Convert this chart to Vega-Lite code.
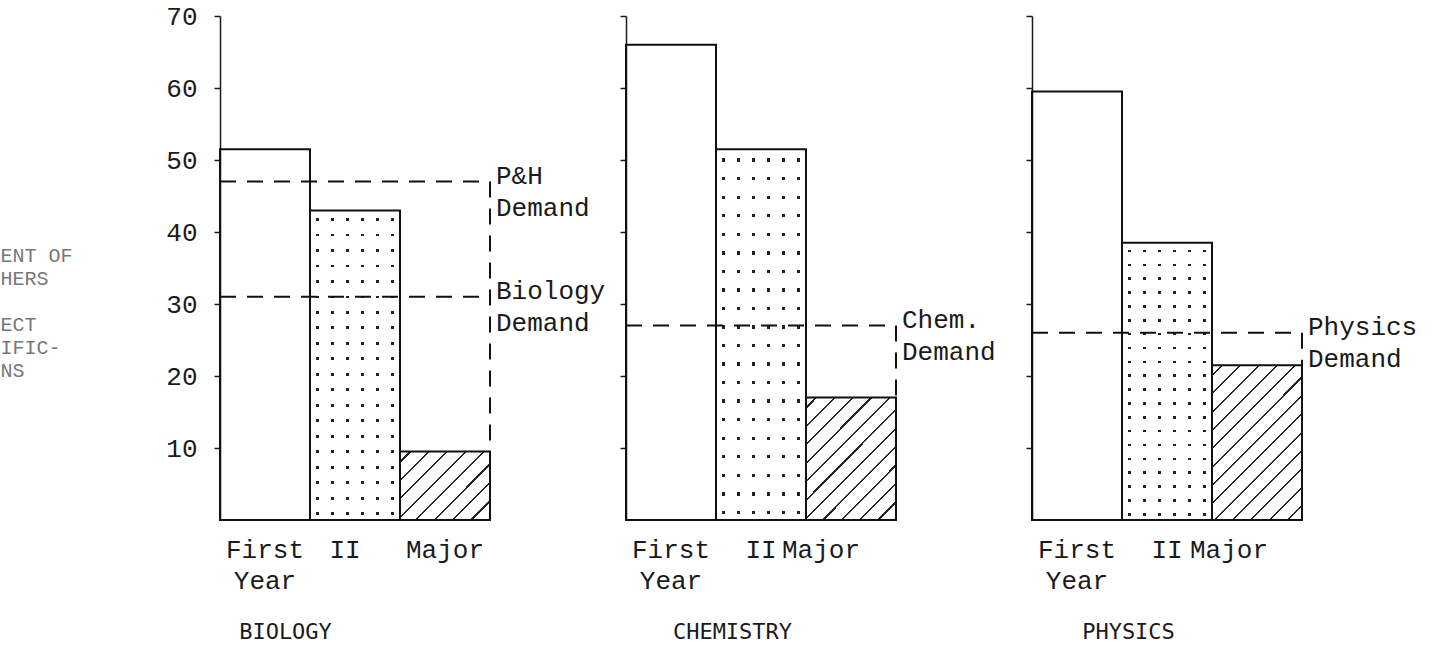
{
  "$schema": "https://vega.github.io/schema/vega-lite/v6.json",
  "background": "white",
  "padding": {"left": -48, "top": 3, "right": 0, "bottom": 0},
  "spacing": 136,
  "bounds": "flush",
  "datasets": {
    "bars": [
      {"subject": "Biology", "category": "First Year", "value": 51.5},
      {"subject": "Biology", "category": "II", "value": 43},
      {"subject": "Biology", "category": "Major", "value": 9.5},
      {"subject": "Chemistry", "category": "First Year", "value": 66},
      {"subject": "Chemistry", "category": "II", "value": 51.5},
      {"subject": "Chemistry", "category": "Major", "value": 17},
      {"subject": "Physics", "category": "First Year", "value": 59.5},
      {"subject": "Physics", "category": "II", "value": 38.5},
      {"subject": "Physics", "category": "Major", "value": 21.5}
    ],
    "demand": [
      {"subject": "Biology", "label": "P&H\nDemand", "demand": 47, "major": 9.5},
      {"subject": "Biology", "label": "Biology\nDemand", "demand": 31, "major": null},
      {"subject": "Chemistry", "label": "Chem.\nDemand", "demand": 27, "major": 17},
      {"subject": "Physics", "label": "Physics\nDemand", "demand": 26, "major": 21.5}
    ]
  },
  "config": {
    "view": {"stroke": null},
    "axis": {"grid": false, "domainColor": "#1a1a1a", "tickColor": "#1a1a1a", "labelColor": "#1a1a1a", "labelFont": "Liberation Mono", "labelFontSize": 26}
  },
  "hconcat": [
    {
      "width": 270, "height": 504,
      "layer": [
        {
          "data": {"name": "bars"},
          "transform": [{"filter": "datum.subject === 'Biology'"}],
          "encoding": {
            "x": {"field": "category", "type": "nominal", "scale": {"domain": ["First Year", "II", "Major"], "paddingInner": 0, "paddingOuter": 0},
              "axis": {"domain": false, "ticks": false, "labelAngle": 0, "labelPadding": 16, "labelLineHeight": 31, "labelOverlap": false, "labelBound": false, "labelBaseline": "top",
                "labelOffset": {"condition": {"test": "datum.value === 'II'", "value": -10}, "value": 0},
                "labelExpr": "datum.value === 'First Year' ? ['First', 'Year\u00a0'] : datum.value",
                "title": "BIOLOGY", "titleFont": "DejaVu Sans Mono", "titleFontSize": 22, "titleFontWeight": "normal", "titleColor": "#1a1a1a", "titleX": 65, "titleY": 111, "titleAlign": "center", "titleBaseline": "middle"}},
            "y": {"field": "value", "type": "quantitative", "scale": {"domain": [0, 70]},
              "axis": {"values": [10, 20, 30, 40, 50, 60, 70], "tickSize": 6, "tickWidth": 1.5, "domainWidth": 1.5, "labelPadding": 17,
                "title": ["PERCENT OF", "TEACHERS", "\u200b", "SUBJECT", "QUALIFIC-", "ATIONS"], "titleAngle": 0, "titleAlign": "left", "titleBaseline": "top", "titleX": -268, "titleY": 229,
                "titleFont": "Liberation Mono", "titleFontSize": 20, "titleFontWeight": "normal", "titleLineHeight": 23, "titleColor": "#777777"}}
          },
          "layer": [
            {"transform": [{"filter": "datum.category === 'II'"}], "mark": {"type": "bar", "fill": {"gradient": "linear", "x1": 0, "y1": 0, "x2": 0, "y2": 1, "stops": [
        {"offset": 0, "color": "#ffffff"},
        {"offset": 0.025, "color": "#ffffff"}, {"offset": 0.025, "color": "#222222"}, {"offset": 0.034, "color": "#222222"}, {"offset": 0.034, "color": "#ffffff"},
        {"offset": 0.075, "color": "#ffffff"}, {"offset": 0.075, "color": "#222222"}, {"offset": 0.084, "color": "#222222"}, {"offset": 0.084, "color": "#ffffff"},
        {"offset": 0.125, "color": "#ffffff"}, {"offset": 0.125, "color": "#222222"}, {"offset": 0.134, "color": "#222222"}, {"offset": 0.134, "color": "#ffffff"},
        {"offset": 0.175, "color": "#ffffff"}, {"offset": 0.175, "color": "#222222"}, {"offset": 0.184, "color": "#222222"}, {"offset": 0.184, "color": "#ffffff"},
        {"offset": 0.225, "color": "#ffffff"}, {"offset": 0.225, "color": "#222222"}, {"offset": 0.234, "color": "#222222"}, {"offset": 0.234, "color": "#ffffff"},
        {"offset": 0.275, "color": "#ffffff"}, {"offset": 0.275, "color": "#222222"}, {"offset": 0.284, "color": "#222222"}, {"offset": 0.284, "color": "#ffffff"},
        {"offset": 0.325, "color": "#ffffff"}, {"offset": 0.325, "color": "#222222"}, {"offset": 0.334, "color": "#222222"}, {"offset": 0.334, "color": "#ffffff"},
        {"offset": 0.375, "color": "#ffffff"}, {"offset": 0.375, "color": "#222222"}, {"offset": 0.384, "color": "#222222"}, {"offset": 0.384, "color": "#ffffff"},
        {"offset": 0.425, "color": "#ffffff"}, {"offset": 0.425, "color": "#222222"}, {"offset": 0.434, "color": "#222222"}, {"offset": 0.434, "color": "#ffffff"},
        {"offset": 0.475, "color": "#ffffff"}, {"offset": 0.475, "color": "#222222"}, {"offset": 0.484, "color": "#222222"}, {"offset": 0.484, "color": "#ffffff"},
        {"offset": 0.525, "color": "#ffffff"}, {"offset": 0.525, "color": "#222222"}, {"offset": 0.534, "color": "#222222"}, {"offset": 0.534, "color": "#ffffff"},
        {"offset": 0.575, "color": "#ffffff"}, {"offset": 0.575, "color": "#222222"}, {"offset": 0.584, "color": "#222222"}, {"offset": 0.584, "color": "#ffffff"},
        {"offset": 0.625, "color": "#ffffff"}, {"offset": 0.625, "color": "#222222"}, {"offset": 0.634, "color": "#222222"}, {"offset": 0.634, "color": "#ffffff"},
        {"offset": 0.675, "color": "#ffffff"}, {"offset": 0.675, "color": "#222222"}, {"offset": 0.684, "color": "#222222"}, {"offset": 0.684, "color": "#ffffff"},
        {"offset": 0.725, "color": "#ffffff"}, {"offset": 0.725, "color": "#222222"}, {"offset": 0.734, "color": "#222222"}, {"offset": 0.734, "color": "#ffffff"},
        {"offset": 0.775, "color": "#ffffff"}, {"offset": 0.775, "color": "#222222"}, {"offset": 0.784, "color": "#222222"}, {"offset": 0.784, "color": "#ffffff"},
        {"offset": 0.825, "color": "#ffffff"}, {"offset": 0.825, "color": "#222222"}, {"offset": 0.834, "color": "#222222"}, {"offset": 0.834, "color": "#ffffff"},
        {"offset": 0.875, "color": "#ffffff"}, {"offset": 0.875, "color": "#222222"}, {"offset": 0.884, "color": "#222222"}, {"offset": 0.884, "color": "#ffffff"},
        {"offset": 0.925, "color": "#ffffff"}, {"offset": 0.925, "color": "#222222"}, {"offset": 0.934, "color": "#222222"}, {"offset": 0.934, "color": "#ffffff"},
        {"offset": 0.975, "color": "#ffffff"}, {"offset": 0.975, "color": "#222222"}, {"offset": 0.984, "color": "#222222"}, {"offset": 0.984, "color": "#ffffff"},
        {"offset": 1, "color": "#ffffff"}]}}},
            {"transform": [{"filter": "datum.category === 'II'"}], "mark": {"type": "bar", "fill": {"gradient": "linear", "x1": 0, "y1": 0, "x2": 1, "y2": 0, "stops": [
        {"offset": 0, "color": "#ffffff"},
        {"offset": 0.067, "color": "#ffffff"}, {"offset": 0.067, "color": "rgba(255,255,255,0)"}, {"offset": 0.1, "color": "rgba(255,255,255,0)"}, {"offset": 0.1, "color": "#ffffff"},
        {"offset": 0.233, "color": "#ffffff"}, {"offset": 0.233, "color": "rgba(255,255,255,0)"}, {"offset": 0.267, "color": "rgba(255,255,255,0)"}, {"offset": 0.267, "color": "#ffffff"},
        {"offset": 0.4, "color": "#ffffff"}, {"offset": 0.4, "color": "rgba(255,255,255,0)"}, {"offset": 0.433, "color": "rgba(255,255,255,0)"}, {"offset": 0.433, "color": "#ffffff"},
        {"offset": 0.567, "color": "#ffffff"}, {"offset": 0.567, "color": "rgba(255,255,255,0)"}, {"offset": 0.6, "color": "rgba(255,255,255,0)"}, {"offset": 0.6, "color": "#ffffff"},
        {"offset": 0.733, "color": "#ffffff"}, {"offset": 0.733, "color": "rgba(255,255,255,0)"}, {"offset": 0.767, "color": "rgba(255,255,255,0)"}, {"offset": 0.767, "color": "#ffffff"},
        {"offset": 0.9, "color": "#ffffff"}, {"offset": 0.9, "color": "rgba(255,255,255,0)"}, {"offset": 0.933, "color": "rgba(255,255,255,0)"}, {"offset": 0.933, "color": "#ffffff"},
        {"offset": 1, "color": "#ffffff"}]}}},
            {"transform": [{"filter": "datum.category === 'Major'"}], "mark": {"type": "bar", "fill": {"gradient": "linear", "x1": 0, "y1": 0, "x2": 2.6, "y2": 1.97, "stops": [
        {"offset": 0, "color": "#ffffff"},
        {"offset": 0.025, "color": "#ffffff"}, {"offset": 0.025, "color": "#262626"}, {"offset": 0.031, "color": "#262626"}, {"offset": 0.031, "color": "#ffffff"},
        {"offset": 0.075, "color": "#ffffff"}, {"offset": 0.075, "color": "#262626"}, {"offset": 0.081, "color": "#262626"}, {"offset": 0.081, "color": "#ffffff"},
        {"offset": 0.125, "color": "#ffffff"}, {"offset": 0.125, "color": "#262626"}, {"offset": 0.131, "color": "#262626"}, {"offset": 0.131, "color": "#ffffff"},
        {"offset": 0.175, "color": "#ffffff"}, {"offset": 0.175, "color": "#262626"}, {"offset": 0.181, "color": "#262626"}, {"offset": 0.181, "color": "#ffffff"},
        {"offset": 0.225, "color": "#ffffff"}, {"offset": 0.225, "color": "#262626"}, {"offset": 0.231, "color": "#262626"}, {"offset": 0.231, "color": "#ffffff"},
        {"offset": 0.275, "color": "#ffffff"}, {"offset": 0.275, "color": "#262626"}, {"offset": 0.281, "color": "#262626"}, {"offset": 0.281, "color": "#ffffff"},
        {"offset": 0.325, "color": "#ffffff"}, {"offset": 0.325, "color": "#262626"}, {"offset": 0.331, "color": "#262626"}, {"offset": 0.331, "color": "#ffffff"},
        {"offset": 0.375, "color": "#ffffff"}, {"offset": 0.375, "color": "#262626"}, {"offset": 0.381, "color": "#262626"}, {"offset": 0.381, "color": "#ffffff"},
        {"offset": 0.425, "color": "#ffffff"}, {"offset": 0.425, "color": "#262626"}, {"offset": 0.431, "color": "#262626"}, {"offset": 0.431, "color": "#ffffff"},
        {"offset": 0.475, "color": "#ffffff"}, {"offset": 0.475, "color": "#262626"}, {"offset": 0.481, "color": "#262626"}, {"offset": 0.481, "color": "#ffffff"},
        {"offset": 0.525, "color": "#ffffff"}, {"offset": 0.525, "color": "#262626"}, {"offset": 0.531, "color": "#262626"}, {"offset": 0.531, "color": "#ffffff"},
        {"offset": 0.575, "color": "#ffffff"}, {"offset": 0.575, "color": "#262626"}, {"offset": 0.581, "color": "#262626"}, {"offset": 0.581, "color": "#ffffff"},
        {"offset": 0.625, "color": "#ffffff"}, {"offset": 0.625, "color": "#262626"}, {"offset": 0.631, "color": "#262626"}, {"offset": 0.631, "color": "#ffffff"},
        {"offset": 0.675, "color": "#ffffff"}, {"offset": 0.675, "color": "#262626"}, {"offset": 0.681, "color": "#262626"}, {"offset": 0.681, "color": "#ffffff"},
        {"offset": 1, "color": "#ffffff"}]}}},
            {"mark": {"type": "bar", "fill": "transparent", "stroke": "#111111", "strokeWidth": 2}}
          ]
        },
        {
          "data": {"name": "demand"},
          "transform": [{"filter": "datum.subject === 'Biology'"}],
          "layer": [
            {"mark": {"type": "rule", "strokeDash": [16, 11], "strokeWidth": 2, "color": "#111111"},
              "encoding": {"y": {"field": "demand", "type": "quantitative", "scale": {"domain": [0, 70]}}, "x": {"value": 0}, "x2": {"value": "width"}}},
            {"transform": [{"filter": "datum.major != null"}], "mark": {"type": "rule", "strokeDash": [16, 11], "strokeWidth": 2, "color": "#111111"},
              "encoding": {"x": {"value": "width"}, "y": {"field": "demand", "type": "quantitative", "scale": {"domain": [0, 70]}}, "y2": {"field": "major"}}},
            {"mark": {"type": "text", "align": "left", "baseline": "middle", "dx": 6, "dy": -6, "lineBreak": "\n", "lineHeight": 32, "font": "Liberation Mono", "fontSize": 26, "color": "#1a1a1a"},
              "encoding": {"x": {"value": "width"}, "y": {"field": "demand", "type": "quantitative", "scale": {"domain": [0, 70]}}, "text": {"field": "label"}}}
          ]
        }
      ]
    },
    {
      "width": 270, "height": 504,
      "layer": [
        {
          "data": {"name": "bars"},
          "transform": [{"filter": "datum.subject === 'Chemistry'"}],
          "encoding": {
            "x": {"field": "category", "type": "nominal", "scale": {"domain": ["First Year", "II", "Major"], "paddingInner": 0, "paddingOuter": 0},
              "axis": {"domain": false, "ticks": false, "labelAngle": 0, "labelPadding": 16, "labelLineHeight": 31, "labelOverlap": false, "labelBound": false, "labelBaseline": "top",
                "labelOffset": {"condition": {"test": "datum.value === 'Major'", "value": -30}, "value": 0},
                "labelExpr": "datum.value === 'First Year' ? ['First', 'Year\u00a0'] : datum.value",
                "title": "CHEMISTRY", "titleFont": "DejaVu Sans Mono", "titleFontSize": 22, "titleFontWeight": "normal", "titleColor": "#1a1a1a", "titleX": 106, "titleY": 111, "titleAlign": "center", "titleBaseline": "middle"}},
            "y": {"field": "value", "type": "quantitative", "scale": {"domain": [0, 70]},
              "axis": {"values": [10, 20, 30, 40, 50, 60, 70], "labels": false, "tickSize": 6, "tickWidth": 1.5, "domainWidth": 1.5, "title": null}}
          },
          "layer": [
            {"transform": [{"filter": "datum.category === 'II'"}], "mark": {"type": "bar", "fill": {"gradient": "linear", "x1": 0, "y1": 0, "x2": 0, "y2": 1, "stops": [
        {"offset": 0, "color": "#ffffff"},
        {"offset": 0.025, "color": "#ffffff"}, {"offset": 0.025, "color": "#222222"}, {"offset": 0.034, "color": "#222222"}, {"offset": 0.034, "color": "#ffffff"},
        {"offset": 0.075, "color": "#ffffff"}, {"offset": 0.075, "color": "#222222"}, {"offset": 0.084, "color": "#222222"}, {"offset": 0.084, "color": "#ffffff"},
        {"offset": 0.125, "color": "#ffffff"}, {"offset": 0.125, "color": "#222222"}, {"offset": 0.134, "color": "#222222"}, {"offset": 0.134, "color": "#ffffff"},
        {"offset": 0.175, "color": "#ffffff"}, {"offset": 0.175, "color": "#222222"}, {"offset": 0.184, "color": "#222222"}, {"offset": 0.184, "color": "#ffffff"},
        {"offset": 0.225, "color": "#ffffff"}, {"offset": 0.225, "color": "#222222"}, {"offset": 0.234, "color": "#222222"}, {"offset": 0.234, "color": "#ffffff"},
        {"offset": 0.275, "color": "#ffffff"}, {"offset": 0.275, "color": "#222222"}, {"offset": 0.284, "color": "#222222"}, {"offset": 0.284, "color": "#ffffff"},
        {"offset": 0.325, "color": "#ffffff"}, {"offset": 0.325, "color": "#222222"}, {"offset": 0.334, "color": "#222222"}, {"offset": 0.334, "color": "#ffffff"},
        {"offset": 0.375, "color": "#ffffff"}, {"offset": 0.375, "color": "#222222"}, {"offset": 0.384, "color": "#222222"}, {"offset": 0.384, "color": "#ffffff"},
        {"offset": 0.425, "color": "#ffffff"}, {"offset": 0.425, "color": "#222222"}, {"offset": 0.434, "color": "#222222"}, {"offset": 0.434, "color": "#ffffff"},
        {"offset": 0.475, "color": "#ffffff"}, {"offset": 0.475, "color": "#222222"}, {"offset": 0.484, "color": "#222222"}, {"offset": 0.484, "color": "#ffffff"},
        {"offset": 0.525, "color": "#ffffff"}, {"offset": 0.525, "color": "#222222"}, {"offset": 0.534, "color": "#222222"}, {"offset": 0.534, "color": "#ffffff"},
        {"offset": 0.575, "color": "#ffffff"}, {"offset": 0.575, "color": "#222222"}, {"offset": 0.584, "color": "#222222"}, {"offset": 0.584, "color": "#ffffff"},
        {"offset": 0.625, "color": "#ffffff"}, {"offset": 0.625, "color": "#222222"}, {"offset": 0.634, "color": "#222222"}, {"offset": 0.634, "color": "#ffffff"},
        {"offset": 0.675, "color": "#ffffff"}, {"offset": 0.675, "color": "#222222"}, {"offset": 0.684, "color": "#222222"}, {"offset": 0.684, "color": "#ffffff"},
        {"offset": 0.725, "color": "#ffffff"}, {"offset": 0.725, "color": "#222222"}, {"offset": 0.734, "color": "#222222"}, {"offset": 0.734, "color": "#ffffff"},
        {"offset": 0.775, "color": "#ffffff"}, {"offset": 0.775, "color": "#222222"}, {"offset": 0.784, "color": "#222222"}, {"offset": 0.784, "color": "#ffffff"},
        {"offset": 0.825, "color": "#ffffff"}, {"offset": 0.825, "color": "#222222"}, {"offset": 0.834, "color": "#222222"}, {"offset": 0.834, "color": "#ffffff"},
        {"offset": 0.875, "color": "#ffffff"}, {"offset": 0.875, "color": "#222222"}, {"offset": 0.884, "color": "#222222"}, {"offset": 0.884, "color": "#ffffff"},
        {"offset": 0.925, "color": "#ffffff"}, {"offset": 0.925, "color": "#222222"}, {"offset": 0.934, "color": "#222222"}, {"offset": 0.934, "color": "#ffffff"},
        {"offset": 0.975, "color": "#ffffff"}, {"offset": 0.975, "color": "#222222"}, {"offset": 0.984, "color": "#222222"}, {"offset": 0.984, "color": "#ffffff"},
        {"offset": 1, "color": "#ffffff"}]}}},
            {"transform": [{"filter": "datum.category === 'II'"}], "mark": {"type": "bar", "fill": {"gradient": "linear", "x1": 0, "y1": 0, "x2": 1, "y2": 0, "stops": [
        {"offset": 0, "color": "#ffffff"},
        {"offset": 0.067, "color": "#ffffff"}, {"offset": 0.067, "color": "rgba(255,255,255,0)"}, {"offset": 0.1, "color": "rgba(255,255,255,0)"}, {"offset": 0.1, "color": "#ffffff"},
        {"offset": 0.233, "color": "#ffffff"}, {"offset": 0.233, "color": "rgba(255,255,255,0)"}, {"offset": 0.267, "color": "rgba(255,255,255,0)"}, {"offset": 0.267, "color": "#ffffff"},
        {"offset": 0.4, "color": "#ffffff"}, {"offset": 0.4, "color": "rgba(255,255,255,0)"}, {"offset": 0.433, "color": "rgba(255,255,255,0)"}, {"offset": 0.433, "color": "#ffffff"},
        {"offset": 0.567, "color": "#ffffff"}, {"offset": 0.567, "color": "rgba(255,255,255,0)"}, {"offset": 0.6, "color": "rgba(255,255,255,0)"}, {"offset": 0.6, "color": "#ffffff"},
        {"offset": 0.733, "color": "#ffffff"}, {"offset": 0.733, "color": "rgba(255,255,255,0)"}, {"offset": 0.767, "color": "rgba(255,255,255,0)"}, {"offset": 0.767, "color": "#ffffff"},
        {"offset": 0.9, "color": "#ffffff"}, {"offset": 0.9, "color": "rgba(255,255,255,0)"}, {"offset": 0.933, "color": "rgba(255,255,255,0)"}, {"offset": 0.933, "color": "#ffffff"},
        {"offset": 1, "color": "#ffffff"}]}}},
            {"transform": [{"filter": "datum.category === 'Major'"}], "mark": {"type": "bar", "fill": {"gradient": "linear", "x1": 0, "y1": 0, "x2": 1.44, "y2": 1.95, "stops": [
        {"offset": 0, "color": "#ffffff"},
        {"offset": 0.025, "color": "#ffffff"}, {"offset": 0.025, "color": "#262626"}, {"offset": 0.031, "color": "#262626"}, {"offset": 0.031, "color": "#ffffff"},
        {"offset": 0.075, "color": "#ffffff"}, {"offset": 0.075, "color": "#262626"}, {"offset": 0.081, "color": "#262626"}, {"offset": 0.081, "color": "#ffffff"},
        {"offset": 0.125, "color": "#ffffff"}, {"offset": 0.125, "color": "#262626"}, {"offset": 0.131, "color": "#262626"}, {"offset": 0.131, "color": "#ffffff"},
        {"offset": 0.175, "color": "#ffffff"}, {"offset": 0.175, "color": "#262626"}, {"offset": 0.181, "color": "#262626"}, {"offset": 0.181, "color": "#ffffff"},
        {"offset": 0.225, "color": "#ffffff"}, {"offset": 0.225, "color": "#262626"}, {"offset": 0.231, "color": "#262626"}, {"offset": 0.231, "color": "#ffffff"},
        {"offset": 0.275, "color": "#ffffff"}, {"offset": 0.275, "color": "#262626"}, {"offset": 0.281, "color": "#262626"}, {"offset": 0.281, "color": "#ffffff"},
        {"offset": 0.325, "color": "#ffffff"}, {"offset": 0.325, "color": "#262626"}, {"offset": 0.331, "color": "#262626"}, {"offset": 0.331, "color": "#ffffff"},
        {"offset": 0.375, "color": "#ffffff"}, {"offset": 0.375, "color": "#262626"}, {"offset": 0.381, "color": "#262626"}, {"offset": 0.381, "color": "#ffffff"},
        {"offset": 0.425, "color": "#ffffff"}, {"offset": 0.425, "color": "#262626"}, {"offset": 0.431, "color": "#262626"}, {"offset": 0.431, "color": "#ffffff"},
        {"offset": 0.475, "color": "#ffffff"}, {"offset": 0.475, "color": "#262626"}, {"offset": 0.481, "color": "#262626"}, {"offset": 0.481, "color": "#ffffff"},
        {"offset": 0.525, "color": "#ffffff"}, {"offset": 0.525, "color": "#262626"}, {"offset": 0.531, "color": "#262626"}, {"offset": 0.531, "color": "#ffffff"},
        {"offset": 0.575, "color": "#ffffff"}, {"offset": 0.575, "color": "#262626"}, {"offset": 0.581, "color": "#262626"}, {"offset": 0.581, "color": "#ffffff"},
        {"offset": 0.625, "color": "#ffffff"}, {"offset": 0.625, "color": "#262626"}, {"offset": 0.631, "color": "#262626"}, {"offset": 0.631, "color": "#ffffff"},
        {"offset": 0.675, "color": "#ffffff"}, {"offset": 0.675, "color": "#262626"}, {"offset": 0.681, "color": "#262626"}, {"offset": 0.681, "color": "#ffffff"},
        {"offset": 1, "color": "#ffffff"}]}}},
            {"mark": {"type": "bar", "fill": "transparent", "stroke": "#111111", "strokeWidth": 2}}
          ]
        },
        {
          "data": {"name": "demand"},
          "transform": [{"filter": "datum.subject === 'Chemistry'"}],
          "layer": [
            {"mark": {"type": "rule", "strokeDash": [16, 11], "strokeWidth": 2, "color": "#111111"},
              "encoding": {"y": {"field": "demand", "type": "quantitative", "scale": {"domain": [0, 70]}}, "x": {"value": 0}, "x2": {"value": "width"}}},
            {"transform": [{"filter": "datum.major != null"}], "mark": {"type": "rule", "strokeDash": [16, 11], "strokeWidth": 2, "color": "#111111"},
              "encoding": {"x": {"value": "width"}, "y": {"field": "demand", "type": "quantitative", "scale": {"domain": [0, 70]}}, "y2": {"field": "major"}}},
            {"mark": {"type": "text", "align": "left", "baseline": "middle", "dx": 6, "dy": -6, "lineBreak": "\n", "lineHeight": 32, "font": "Liberation Mono", "fontSize": 26, "color": "#1a1a1a"},
              "encoding": {"x": {"value": "width"}, "y": {"field": "demand", "type": "quantitative", "scale": {"domain": [0, 70]}}, "text": {"field": "label"}}}
          ]
        }
      ]
    },
    {
      "width": 270, "height": 504,
      "layer": [
        {
          "data": {"name": "bars"},
          "transform": [{"filter": "datum.subject === 'Physics'"}],
          "encoding": {
            "x": {"field": "category", "type": "nominal", "scale": {"domain": ["First Year", "II", "Major"], "paddingInner": 0, "paddingOuter": 0},
              "axis": {"domain": false, "ticks": false, "labelAngle": 0, "labelPadding": 16, "labelLineHeight": 31, "labelOverlap": false, "labelBound": false, "labelBaseline": "top",
                "labelOffset": {"condition": {"test": "datum.value === 'Major'", "value": -28}, "value": 0},
                "labelExpr": "datum.value === 'First Year' ? ['First', 'Year\u00a0'] : datum.value",
                "title": "PHYSICS", "titleFont": "DejaVu Sans Mono", "titleFontSize": 22, "titleFontWeight": "normal", "titleColor": "#1a1a1a", "titleX": 96, "titleY": 111, "titleAlign": "center", "titleBaseline": "middle"}},
            "y": {"field": "value", "type": "quantitative", "scale": {"domain": [0, 70]},
              "axis": {"values": [10, 20, 30, 40, 50, 60, 70], "labels": false, "tickSize": 6, "tickWidth": 1.5, "domainWidth": 1.5, "title": null}}
          },
          "layer": [
            {"transform": [{"filter": "datum.category === 'II'"}], "mark": {"type": "bar", "fill": {"gradient": "linear", "x1": 0, "y1": 0, "x2": 0, "y2": 1, "stops": [
        {"offset": 0, "color": "#ffffff"},
        {"offset": 0.025, "color": "#ffffff"}, {"offset": 0.025, "color": "#222222"}, {"offset": 0.034, "color": "#222222"}, {"offset": 0.034, "color": "#ffffff"},
        {"offset": 0.075, "color": "#ffffff"}, {"offset": 0.075, "color": "#222222"}, {"offset": 0.084, "color": "#222222"}, {"offset": 0.084, "color": "#ffffff"},
        {"offset": 0.125, "color": "#ffffff"}, {"offset": 0.125, "color": "#222222"}, {"offset": 0.134, "color": "#222222"}, {"offset": 0.134, "color": "#ffffff"},
        {"offset": 0.175, "color": "#ffffff"}, {"offset": 0.175, "color": "#222222"}, {"offset": 0.184, "color": "#222222"}, {"offset": 0.184, "color": "#ffffff"},
        {"offset": 0.225, "color": "#ffffff"}, {"offset": 0.225, "color": "#222222"}, {"offset": 0.234, "color": "#222222"}, {"offset": 0.234, "color": "#ffffff"},
        {"offset": 0.275, "color": "#ffffff"}, {"offset": 0.275, "color": "#222222"}, {"offset": 0.284, "color": "#222222"}, {"offset": 0.284, "color": "#ffffff"},
        {"offset": 0.325, "color": "#ffffff"}, {"offset": 0.325, "color": "#222222"}, {"offset": 0.334, "color": "#222222"}, {"offset": 0.334, "color": "#ffffff"},
        {"offset": 0.375, "color": "#ffffff"}, {"offset": 0.375, "color": "#222222"}, {"offset": 0.384, "color": "#222222"}, {"offset": 0.384, "color": "#ffffff"},
        {"offset": 0.425, "color": "#ffffff"}, {"offset": 0.425, "color": "#222222"}, {"offset": 0.434, "color": "#222222"}, {"offset": 0.434, "color": "#ffffff"},
        {"offset": 0.475, "color": "#ffffff"}, {"offset": 0.475, "color": "#222222"}, {"offset": 0.484, "color": "#222222"}, {"offset": 0.484, "color": "#ffffff"},
        {"offset": 0.525, "color": "#ffffff"}, {"offset": 0.525, "color": "#222222"}, {"offset": 0.534, "color": "#222222"}, {"offset": 0.534, "color": "#ffffff"},
        {"offset": 0.575, "color": "#ffffff"}, {"offset": 0.575, "color": "#222222"}, {"offset": 0.584, "color": "#222222"}, {"offset": 0.584, "color": "#ffffff"},
        {"offset": 0.625, "color": "#ffffff"}, {"offset": 0.625, "color": "#222222"}, {"offset": 0.634, "color": "#222222"}, {"offset": 0.634, "color": "#ffffff"},
        {"offset": 0.675, "color": "#ffffff"}, {"offset": 0.675, "color": "#222222"}, {"offset": 0.684, "color": "#222222"}, {"offset": 0.684, "color": "#ffffff"},
        {"offset": 0.725, "color": "#ffffff"}, {"offset": 0.725, "color": "#222222"}, {"offset": 0.734, "color": "#222222"}, {"offset": 0.734, "color": "#ffffff"},
        {"offset": 0.775, "color": "#ffffff"}, {"offset": 0.775, "color": "#222222"}, {"offset": 0.784, "color": "#222222"}, {"offset": 0.784, "color": "#ffffff"},
        {"offset": 0.825, "color": "#ffffff"}, {"offset": 0.825, "color": "#222222"}, {"offset": 0.834, "color": "#222222"}, {"offset": 0.834, "color": "#ffffff"},
        {"offset": 0.875, "color": "#ffffff"}, {"offset": 0.875, "color": "#222222"}, {"offset": 0.884, "color": "#222222"}, {"offset": 0.884, "color": "#ffffff"},
        {"offset": 0.925, "color": "#ffffff"}, {"offset": 0.925, "color": "#222222"}, {"offset": 0.934, "color": "#222222"}, {"offset": 0.934, "color": "#ffffff"},
        {"offset": 0.975, "color": "#ffffff"}, {"offset": 0.975, "color": "#222222"}, {"offset": 0.984, "color": "#222222"}, {"offset": 0.984, "color": "#ffffff"},
        {"offset": 1, "color": "#ffffff"}]}}},
            {"transform": [{"filter": "datum.category === 'II'"}], "mark": {"type": "bar", "fill": {"gradient": "linear", "x1": 0, "y1": 0, "x2": 1, "y2": 0, "stops": [
        {"offset": 0, "color": "#ffffff"},
        {"offset": 0.067, "color": "#ffffff"}, {"offset": 0.067, "color": "rgba(255,255,255,0)"}, {"offset": 0.1, "color": "rgba(255,255,255,0)"}, {"offset": 0.1, "color": "#ffffff"},
        {"offset": 0.233, "color": "#ffffff"}, {"offset": 0.233, "color": "rgba(255,255,255,0)"}, {"offset": 0.267, "color": "rgba(255,255,255,0)"}, {"offset": 0.267, "color": "#ffffff"},
        {"offset": 0.4, "color": "#ffffff"}, {"offset": 0.4, "color": "rgba(255,255,255,0)"}, {"offset": 0.433, "color": "rgba(255,255,255,0)"}, {"offset": 0.433, "color": "#ffffff"},
        {"offset": 0.567, "color": "#ffffff"}, {"offset": 0.567, "color": "rgba(255,255,255,0)"}, {"offset": 0.6, "color": "rgba(255,255,255,0)"}, {"offset": 0.6, "color": "#ffffff"},
        {"offset": 0.733, "color": "#ffffff"}, {"offset": 0.733, "color": "rgba(255,255,255,0)"}, {"offset": 0.767, "color": "rgba(255,255,255,0)"}, {"offset": 0.767, "color": "#ffffff"},
        {"offset": 0.9, "color": "#ffffff"}, {"offset": 0.9, "color": "rgba(255,255,255,0)"}, {"offset": 0.933, "color": "rgba(255,255,255,0)"}, {"offset": 0.933, "color": "#ffffff"},
        {"offset": 1, "color": "#ffffff"}]}}},
            {"transform": [{"filter": "datum.category === 'Major'"}], "mark": {"type": "bar", "fill": {"gradient": "linear", "x1": 0, "y1": 0, "x2": 1.03, "y2": 1.77, "stops": [
        {"offset": 0, "color": "#ffffff"},
        {"offset": 0.025, "color": "#ffffff"}, {"offset": 0.025, "color": "#262626"}, {"offset": 0.031, "color": "#262626"}, {"offset": 0.031, "color": "#ffffff"},
        {"offset": 0.075, "color": "#ffffff"}, {"offset": 0.075, "color": "#262626"}, {"offset": 0.081, "color": "#262626"}, {"offset": 0.081, "color": "#ffffff"},
        {"offset": 0.125, "color": "#ffffff"}, {"offset": 0.125, "color": "#262626"}, {"offset": 0.131, "color": "#262626"}, {"offset": 0.131, "color": "#ffffff"},
        {"offset": 0.175, "color": "#ffffff"}, {"offset": 0.175, "color": "#262626"}, {"offset": 0.181, "color": "#262626"}, {"offset": 0.181, "color": "#ffffff"},
        {"offset": 0.225, "color": "#ffffff"}, {"offset": 0.225, "color": "#262626"}, {"offset": 0.231, "color": "#262626"}, {"offset": 0.231, "color": "#ffffff"},
        {"offset": 0.275, "color": "#ffffff"}, {"offset": 0.275, "color": "#262626"}, {"offset": 0.281, "color": "#262626"}, {"offset": 0.281, "color": "#ffffff"},
        {"offset": 0.325, "color": "#ffffff"}, {"offset": 0.325, "color": "#262626"}, {"offset": 0.331, "color": "#262626"}, {"offset": 0.331, "color": "#ffffff"},
        {"offset": 0.375, "color": "#ffffff"}, {"offset": 0.375, "color": "#262626"}, {"offset": 0.381, "color": "#262626"}, {"offset": 0.381, "color": "#ffffff"},
        {"offset": 0.425, "color": "#ffffff"}, {"offset": 0.425, "color": "#262626"}, {"offset": 0.431, "color": "#262626"}, {"offset": 0.431, "color": "#ffffff"},
        {"offset": 0.475, "color": "#ffffff"}, {"offset": 0.475, "color": "#262626"}, {"offset": 0.481, "color": "#262626"}, {"offset": 0.481, "color": "#ffffff"},
        {"offset": 0.525, "color": "#ffffff"}, {"offset": 0.525, "color": "#262626"}, {"offset": 0.531, "color": "#262626"}, {"offset": 0.531, "color": "#ffffff"},
        {"offset": 0.575, "color": "#ffffff"}, {"offset": 0.575, "color": "#262626"}, {"offset": 0.581, "color": "#262626"}, {"offset": 0.581, "color": "#ffffff"},
        {"offset": 0.625, "color": "#ffffff"}, {"offset": 0.625, "color": "#262626"}, {"offset": 0.631, "color": "#262626"}, {"offset": 0.631, "color": "#ffffff"},
        {"offset": 0.675, "color": "#ffffff"}, {"offset": 0.675, "color": "#262626"}, {"offset": 0.681, "color": "#262626"}, {"offset": 0.681, "color": "#ffffff"},
        {"offset": 1, "color": "#ffffff"}]}}},
            {"mark": {"type": "bar", "fill": "transparent", "stroke": "#111111", "strokeWidth": 2}}
          ]
        },
        {
          "data": {"name": "demand"},
          "transform": [{"filter": "datum.subject === 'Physics'"}],
          "layer": [
            {"mark": {"type": "rule", "strokeDash": [16, 11], "strokeWidth": 2, "color": "#111111"},
              "encoding": {"y": {"field": "demand", "type": "quantitative", "scale": {"domain": [0, 70]}}, "x": {"value": 0}, "x2": {"value": "width"}}},
            {"transform": [{"filter": "datum.major != null"}], "mark": {"type": "rule", "strokeDash": [16, 11], "strokeWidth": 2, "color": "#111111"},
              "encoding": {"x": {"value": "width"}, "y": {"field": "demand", "type": "quantitative", "scale": {"domain": [0, 70]}}, "y2": {"field": "major"}}},
            {"mark": {"type": "text", "align": "left", "baseline": "middle", "dx": 6, "dy": -6, "lineBreak": "\n", "lineHeight": 32, "font": "Liberation Mono", "fontSize": 26, "color": "#1a1a1a"},
              "encoding": {"x": {"value": "width"}, "y": {"field": "demand", "type": "quantitative", "scale": {"domain": [0, 70]}}, "text": {"field": "label"}}}
          ]
        }
      ]
    }
  ]
}
